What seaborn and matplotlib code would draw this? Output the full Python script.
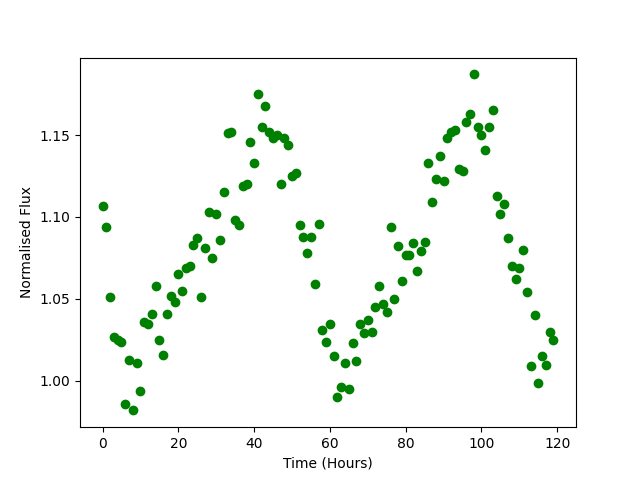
import numpy as np
import pandas as pd
import matplotlib
matplotlib.use("Agg")
import matplotlib.pyplot as plt
import seaborn as sns

# Hourly time stamps
hours = list(range(120))

# Normalised flux
flux = [
    1.107, 1.094, 1.051, 1.027, 1.025, 1.024, 0.986, 1.013, 0.982, 1.011,
    0.994, 1.036, 1.035, 1.041, 1.058, 1.025, 1.016, 1.041, 1.052, 1.048,
    1.065, 1.055, 1.069, 1.070, 1.083, 1.087, 1.051, 1.081, 1.103, 1.075,
    1.102, 1.086, 1.115, 1.151, 1.152, 1.098, 1.095, 1.119, 1.120, 1.146,
    1.133, 1.175, 1.155, 1.168, 1.152, 1.148, 1.150, 1.120, 1.148, 1.144,
    1.125, 1.127, 1.095, 1.088, 1.078, 1.088, 1.059, 1.096, 1.031, 1.024,
    1.035, 1.015, 0.990, 0.996, 1.011, 0.995, 1.023, 1.012, 1.035, 1.029,
    1.037, 1.030, 1.045, 1.058, 1.047, 1.042, 1.094, 1.050, 1.082, 1.061,
    1.077, 1.077, 1.084, 1.067, 1.079, 1.085, 1.133, 1.109, 1.123, 1.137,
    1.122, 1.148, 1.152, 1.153, 1.129, 1.128, 1.158, 1.163, 1.187, 1.155,
    1.150, 1.141, 1.155, 1.165, 1.113, 1.102, 1.108, 1.087, 1.070, 1.062,
    1.069, 1.080, 1.054, 1.009, 1.040, 0.999, 1.015, 1.010, 1.030, 1.025,
]

df = pd.DataFrame({"Time": hours, "Flux": flux})

fig, ax = plt.subplots(figsize=(6.4, 4.8), dpi=100)
sns.scatterplot(data=df, x="Time", y="Flux", color="green", edgecolor="green",
                s=36, linewidth=1, ax=ax)
ax.set_xlabel("Time (Hours)")
ax.set_ylabel("Normalised Flux")
plt.savefig("out.png", dpi=100)
